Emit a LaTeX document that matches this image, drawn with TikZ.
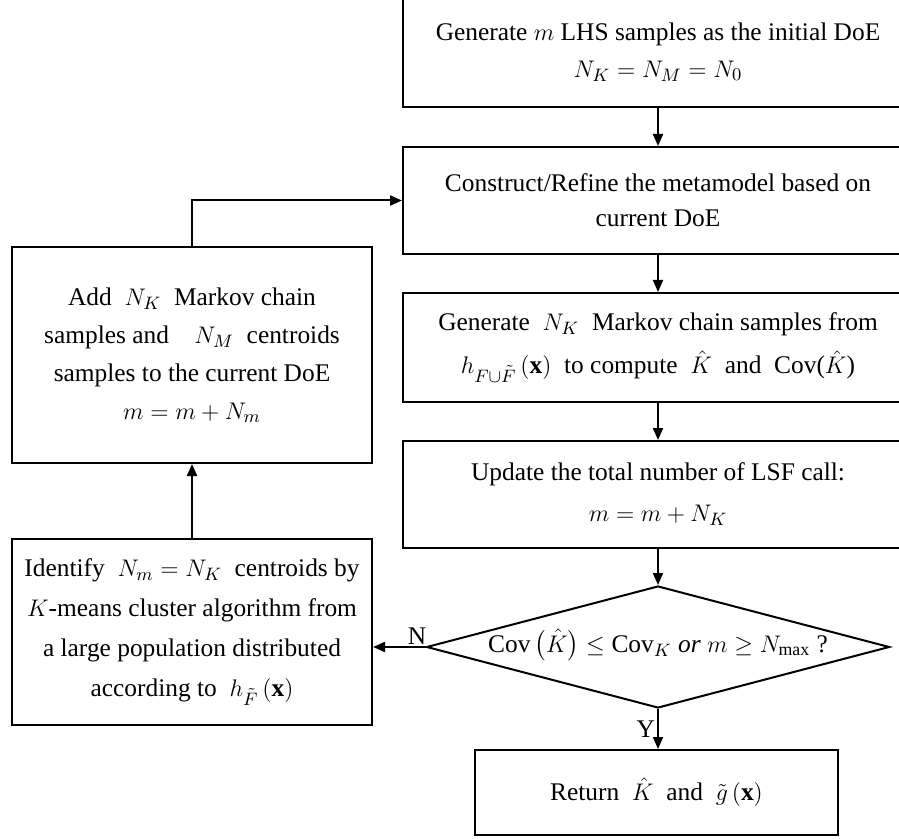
\documentclass[tikz,border=0pt]{standalone}
\usepackage{fontspec}
\setmainfont{Liberation Serif}
\usepackage{amsmath,amssymb}
\usetikzlibrary{arrows.meta,shapes.geometric}

\begin{document}
\begin{tikzpicture}[
  x=0.5pt, y=-0.5pt,
  procbox/.style={draw, rectangle, line width=1pt, align=center, font=\fontsize{12.7}{17.5}\selectfont, inner sep=2pt},
  rightbox/.style={procbox, minimum width=255pt},
  leftbox/.style={procbox, minimum width=180pt},
  decbox/.style={draw, diamond, line width=1pt, aspect=3.8, inner sep=0pt, text height=5pt, text depth=0pt, minimum width=231.5pt, minimum height=61pt, font=\fontsize{12.7}{14}\selectfont},
  arrow/.style={-{Triangle[length=6pt,width=5pt]}, line width=1pt},
  lbl/.style={font=\fontsize{12.7}{14}\selectfont, inner sep=1pt}
]

\useasboundingbox (0,0) rectangle (899,839);
\clip (0,0) rectangle (899,839);

\node[rightbox, minimum height=55pt] (init) at (658, 52) {Generate $m$ LHS samples as the initial DoE\\[1pt]$N_K = N_M = N_0$};
\node[rightbox, minimum height=53.5pt] (build) at (658, 200.5) {Construct/Refine the metamodel based on\\current DoE};
\node[rightbox, minimum height=54.5pt] (sample) at (658, 347.5) {Generate\ \ $N_K$\ \ Markov chain samples from\\[4pt]$h_{F\cup\tilde{F}}\left(\mathbf{x}\right)$\ \ to compute\ \ $\hat{K}$\ \ and\ \ Cov($\hat{K}$)};
\node[rightbox, minimum height=53.5pt] (update) at (658, 494.5) {Update the total number of LSF call:\\[3pt]$m = m + N_K$};

\node[decbox] (check) at (658, 647) {$\mathrm{Cov}\left(\hat{K}\right) \le \mathrm{Cov}_K$ \textit{or} $m \ge N_{\max}$ ?};

\node[procbox, minimum width=181.5pt, minimum height=42.5pt] (result) at (656.5, 792.5) {Return\ \ $\hat{K}$\ \ and\ \ $\tilde{g}\left(\mathbf{x}\right)$};

\node[leftbox, minimum height=108pt, font=\fontsize{12.7}{19}\selectfont] (add) at (192, 355) {Add\ \ $N_K$\ \ Markov chain\\samples and\quad $N_M$\ \ centroids\\samples to the current DoE\\$m = m + N_m$};
\node[leftbox, minimum height=93pt, font=\fontsize{12.7}{20}\selectfont] (ident) at (192, 632) {Identify\ \ $N_m = N_K$\ \ centroids by\\$K$-means cluster algorithm from\\a large population distributed\\according to\ \ $h_{\tilde{F}}\left(\mathbf{x}\right)$};

\draw[arrow] (init) -- (build);
\draw[arrow] (build) -- (sample);
\draw[arrow] (sample) -- (update);
\draw[arrow] (update) -- (check);
\draw[arrow] (check.west) -- node[lbl, above, pos=0.16] {N} (check.west -| ident.east);
\draw[arrow] (check.south) -- node[lbl, left] {Y} (check.south |- result.north);
\draw[arrow] (ident) -- (add);
\draw[arrow] (add.north) |- (build.west);

\end{tikzpicture}
\end{document}
